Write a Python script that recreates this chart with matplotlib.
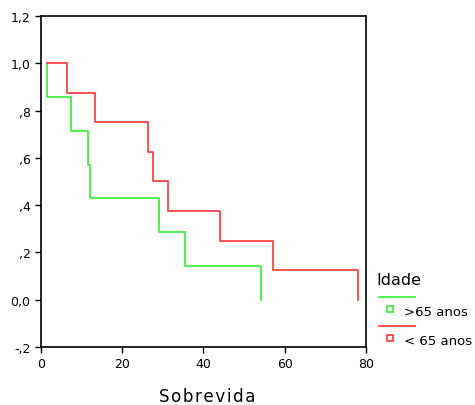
import matplotlib
matplotlib.use('Agg')
import matplotlib.pyplot as plt
from matplotlib.lines import Line2D

# Kaplan-Meier steps
green_t = [1.4, 1.4, 7.3, 11.5, 12.1, 29.1, 35.5, 54.1, 54.1]
green_s = [1.0, 0.857, 0.714, 0.571, 0.429, 0.286, 0.143, 0.143, 0.0]
red_t = [1.4, 6.3, 13.3, 26.3, 27.5, 31.2, 44.0, 57.2, 78.0, 78.0]
red_s = [1.0, 0.875, 0.75, 0.625, 0.5, 0.375, 0.25, 0.125, 0.125, 0.0]

yticks = [-0.2, 0.0, 0.2, 0.4, 0.6, 0.8, 1.0, 1.2]
ylabels = ['-,2', '0,0', ',2', ',4', ',6', ',8', '1,0', '1,2']
xticks = [0, 20, 40, 60, 80]

green = '#33ee33'
red = '#ff3333'

fig = plt.figure(figsize=(4.75, 4.06), dpi=100)
ax = fig.add_axes([0.0863, 0.1429, 0.6842, 0.8153])

ax.step(green_t, green_s, where='post', color=green, lw=1.2)
ax.step(red_t, red_s, where='post', color=red, lw=1.2)

ax.set_xlim(0, 80)
ax.set_ylim(-0.2, 1.2)
ax.set_xticks(xticks)
ax.set_yticks(yticks)
ax.set_yticklabels(ylabels)
ax.tick_params(direction='out', length=4, labelsize=9, width=1)
for s in ax.spines.values():
    s.set_linewidth(1.2)

# spaced-out axis title like the original
fig.text(0.436, 0.022, '\u200a'.join('Sobrevida'), ha='center', va='center',
         fontsize=12)

# legend drawn by hand
fig.text(0.792, 0.31, 'Idade', ha='left', va='center', fontsize=11.5)
fig.add_artist(Line2D([0.798, 0.874], [0.267, 0.267], color=green, lw=1.2))
fig.add_artist(Line2D([0.821], [0.236], color=green, marker='s', ms=4,
                      mfc='white', mew=1.2, ls='none'))
fig.text(0.850, 0.231, '>65 anos', ha='left', va='center', fontsize=9.5)
fig.add_artist(Line2D([0.798, 0.874], [0.194, 0.194], color=red, lw=1.2))
fig.add_artist(Line2D([0.821], [0.164], color=red, marker='s', ms=4,
                      mfc='white', mew=1.2, ls='none'))
fig.text(0.850, 0.158, '< 65 anos', ha='left', va='center', fontsize=9.5)

fig.savefig('out.png', dpi=100)
